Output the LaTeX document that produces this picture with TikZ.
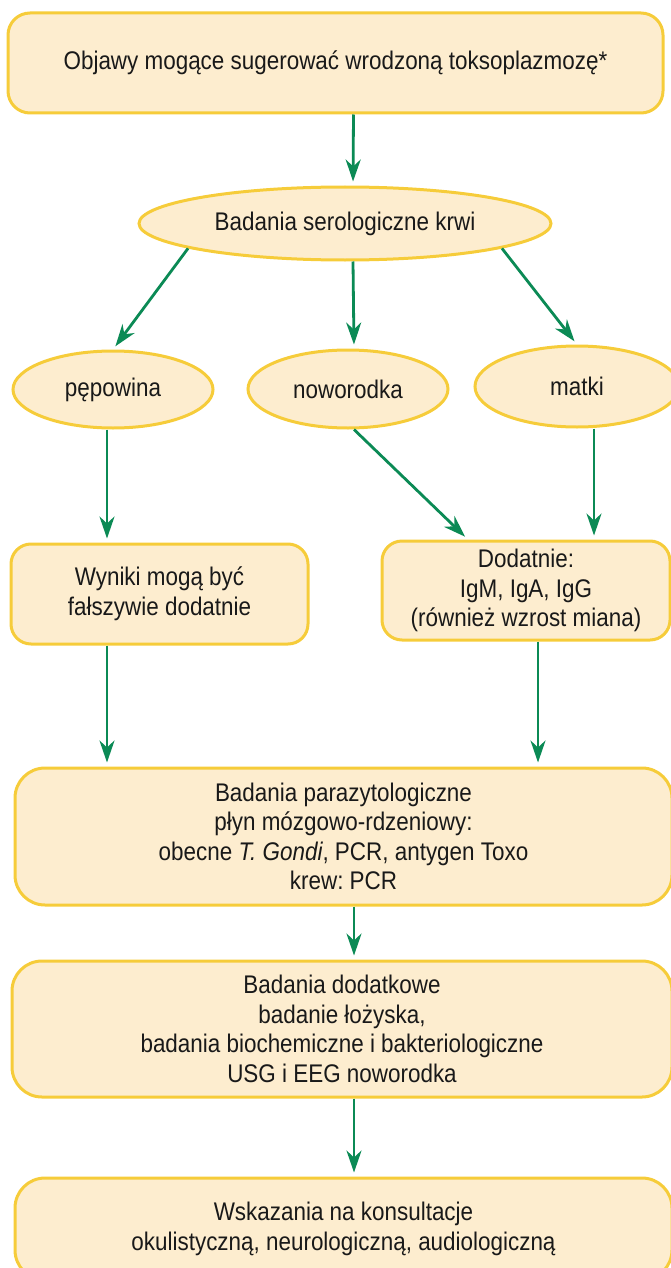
\documentclass[tikz,border=0pt]{standalone}
\usepackage{fontspec}
\setmainfont[FakeStretch=0.88]{Liberation Sans}
\usetikzlibrary{arrows.meta,shapes.geometric}
\definecolor{boxfill}{HTML}{FDEDCF}
\definecolor{boxline}{HTML}{F6CC3A}
\definecolor{arrgreen}{HTML}{0B8A55}
\frenchspacing
\begin{document}
\begin{tikzpicture}[x=1pt,y=-1pt,
  txt/.style={font=\fontsize{25.5}{29.5}\selectfont, text=black!90},
  box/.style={txt, draw=boxline, fill=boxfill, line width=3pt, rounded corners=22pt, inner sep=0pt, align=center},
  oval/.style={txt, draw=boxline, fill=boxfill, line width=3pt, ellipse, inner sep=0pt},
  arr/.style={draw=arrgreen, line width=2.8pt, -{Stealth[length=22pt,width=15pt,inset=7pt]}, shorten >=4pt}]
\useasboundingbox (0,0) rectangle (671,1268);
% nodes
\node[box, minimum width=655pt, minimum height=100pt] (top) at (335.5,63) {Objawy mogące sugerować wrodzoną toksoplazmozę*};
\node[oval, minimum width=412pt, minimum height=73pt] (ser) at (345,223.5) {Badania serologiczne krwi};
\node[oval, minimum width=200pt, minimum height=77pt] (pep) at (113,389.5) {pępowina};
\node[oval, minimum width=200pt, minimum height=78pt] (now) at (348,389) {noworodka};
\node[oval, minimum width=204pt, minimum height=81pt] (mat) at (577,386.5) {matki};
\node[box, rounded corners=20pt, minimum width=297pt, minimum height=100pt] (wyn) at (159.5,594) {Wyniki mogą być\\fałszywie dodatnie};
\node[box, rounded corners=20pt, minimum width=288pt, minimum height=99pt] (dod) at (526,590.5) {Dodatnie:\\IgM, IgA, IgG\\(również wzrost miana)};
\node[box, rounded corners=30pt, minimum width=657pt, minimum height=137pt] (par) at (343.5,836.5) {Badania parazytologiczne\\płyn mózgowo-rdzeniowy:\\obecne \textit{T. Gondi}, PCR, antygen Toxo\\krew: PCR};
\node[box, rounded corners=30pt, minimum width=660pt, minimum height=136pt] (dd) at (342,1029) {Badania dodatkowe\\badanie łożyska,\\badania biochemiczne i bakteriologiczne\\USG i EEG noworodka};
\node[box, rounded corners=30pt, minimum width=657pt, minimum height=102pt] (wsk) at (343.5,1229) {Wskazania na konsultacje\\okulistyczną, neurologiczną, audiologiczną};
% connectors
\draw[arr] ([xshift=18pt]top.south) -- ([xshift=8pt]ser.north);
\draw[arr] (ser.189) -- (pep.north);
\draw[arr] ([xshift=8pt]ser.south) -- ([xshift=6pt]now.north);
\draw[arr] (ser.351) -- (mat.north);
\draw[arr] ([xshift=-6pt]pep.south) -- ([xshift=-52.5pt]wyn.north);
\draw[arr] ([xshift=6pt]now.south) -- ([xshift=-58pt]dod.north);
\draw[arr] ([xshift=17pt]mat.south) -- ([xshift=68pt]dod.north);
\draw[arr] ([xshift=-52.5pt]wyn.south) -- ([xshift=-236.5pt]par.north);
\draw[arr] ([xshift=12pt]dod.south) -- ([xshift=194.5pt]par.north);
\draw[arr] ([xshift=10.5pt]par.south) -- ([xshift=12pt]dd.north);
\draw[arr] ([xshift=12pt]dd.south) -- ([xshift=10.5pt]wsk.north);
\end{tikzpicture}
\end{document}
